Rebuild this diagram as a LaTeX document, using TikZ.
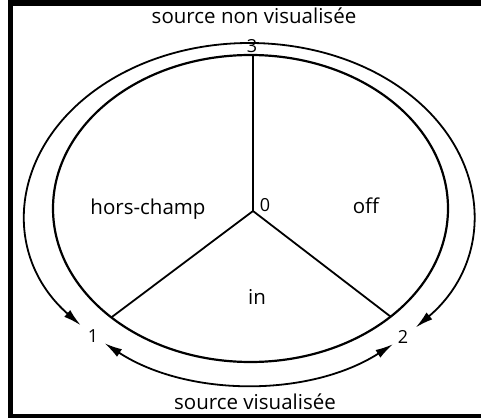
\documentclass[tikz,border=0pt]{standalone}
\usepackage{fontspec}
\setmainfont{Open Sans}
\newfontfamily\lblfont{Open Sans}
\usetikzlibrary{arrows.meta,calc}
\begin{document}
\begin{tikzpicture}[x=1pt,y=1pt,
  lbl/.style={inner sep=0pt,font=\lblfont\fontsize{20.5}{22}\selectfont},
  num/.style={inner sep=0pt,font=\lblfont\fontsize{18}{20}\selectfont},
  ring/.style={line width=2.2pt},
  spoke/.style={line width=1.8pt},
  dbl/.style={line width=1.8pt,{Latex[length=18pt,width=9pt]}-{Latex[length=18pt,width=9pt]}}]
\useasboundingbox (0,0) rectangle (481,418);
% frame (open on the right)
\draw[line width=6pt] (481,415) -- (8,415);
\draw[line width=5pt] (10.5,418) -- (10.5,0);
\draw[line width=4pt] (8,2) -- (481,2);
% centres
\coordinate (Ci) at (250.5,209.5);
\coordinate (Co) at (249.5,204.5);
% inner ellipse
\draw[ring] (Ci) ellipse[x radius=197.5pt, y radius=153.5pt];
% spoke end points
\coordinate (O) at (253,207);
\coordinate (P3) at (253,363);
\coordinate (P1) at ($(Ci)+({197.5*cos(225.2)},{153.5*sin(225.2)})$);
\coordinate (P2) at ($(Ci)+({197.5*cos(-44.8)},{153.5*sin(-44.8)})$);
\draw[spoke] (O) -- (P3);
\draw[spoke] (O) -- (P1);
\draw[spoke] (O) -- (P2);
% outer arrows
\coordinate (A1) at ($(Co)+({223.5*cos(221)},{170.5*sin(221)})$);
\coordinate (A2) at ($(Co)+({223.5*cos(229.5)},{170.5*sin(229.5)})$);
\draw[dbl] (A1) arc[start angle=221, end angle=-42, x radius=223.5pt, y radius=170.5pt];
\draw[dbl] (A2) arc[start angle=229.5, end angle=310, x radius=223.5pt, y radius=170.5pt];
% labels
\node[lbl] (top) at (254,402) {source non visualisée};
\node[lbl] (bot) at (255,16) {source visualisée};
\node[num] (n3) at (252,372) {3};
\node[num] (n0) at (265,213) {0};
\node[num] (n1) at (93,82) {1};
\node[num] (n2) at (403,81) {2};
\node[lbl] (hc) at (148,209) {hors-champ};
\node[lbl] (off) at (366,212) {off};
\node[lbl] (in) at (257,121) {in};
\end{tikzpicture}
\end{document}
